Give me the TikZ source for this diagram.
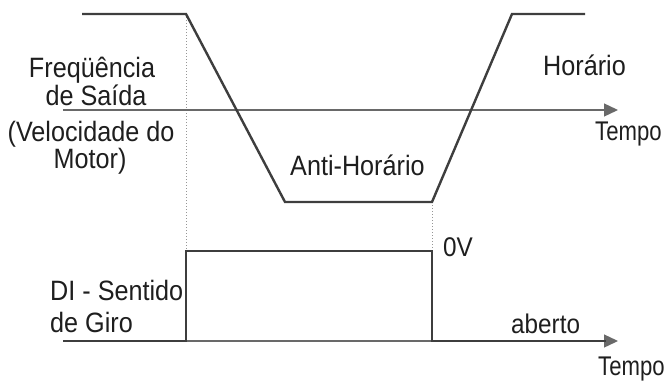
\documentclass[tikz,border=0pt]{standalone}
\usepackage{fontspec}
\setmainfont{Liberation Sans}[FakeStretch=0.9]
\newfontfamily\narrowsans{Liberation Sans}[FakeStretch=0.82]
\usepackage{xcolor}
\usepackage{tikz}
\usetikzlibrary{positioning,arrows.meta}
\definecolor{sigdark}{RGB}{62,62,62}
\definecolor{axisgray}{RGB}{105,105,105}
\definecolor{dotgray}{RGB}{150,150,150}
\definecolor{txtdark}{RGB}{30,30,30}

\begin{document}
\begin{tikzpicture}[x=1pt, y=-1pt,
    signal/.style={draw=sigdark, line width=2.4pt, line join=miter},
    axisline/.style={draw=axisgray, line width=1.3pt, -{Triangle[length=14pt,width=13pt]}},
    guide/.style={draw=dotgray, line width=1pt, dash pattern=on 1pt off 2pt},
    lbl/.style={inner sep=0pt, anchor=base, text=txtdark, font=\fontsize{28}{31}\selectfont},
    lblw/.style={lbl, anchor=base west},
    smalllbl/.style={lblw, font=\fontsize{27}{30}\selectfont},
    timelbl/.style={lblw, font=\narrowsans\fontsize{27}{30}\selectfont}]
  \useasboundingbox (0,0) rectangle (671,383);

  % frequency curve
  \coordinate (f1) at (82,14);
  \coordinate (f2) at (186,14);
  \coordinate (f3) at (285,202);
  \coordinate (f4) at (432,202);
  \coordinate (f5) at (512,14);
  \coordinate (f6) at (585,14);
  % digital input pulse
  \coordinate (p1) at (63,341);
  \coordinate (p2) at (186,341);
  \coordinate (p3) at (186,251);
  \coordinate (p4) at (432,251);
  \coordinate (p5) at (432,341);
  \coordinate (p6) at (606,341);
  % axes
  \coordinate (ax1s) at (63,110);
  \coordinate (ax1e) at (618,110);
  \coordinate (ax2s) at (63,341);
  \coordinate (ax2e) at (618,341);

  \draw[guide] (f2) -- (p3);
  \draw[guide] (f4) -- (p4);
  \draw[axisline] (ax1s) -- (ax1e);
  \draw[axisline] (ax2s) -- (ax2e);
  \draw[signal] (f1) -- (f2) -- (f3) -- (f4) -- (f5) -- (f6);
  \draw[signal] (p1) -- (p2) -- (p3) -- (p4) -- (p5) -- (p6);

  \node[lbl] (freq) at (92,77) {Freqüência};
  \node[lbl] (saida) at (96,105) {de Saída};
  \node[lbl] (veloc) at (91,141) {(Velocidade do};
  \node[lbl] (motor) at (90,168) {Motor)};
  \node[lblw] (anti) at (290,175) {Anti-Horário};
  \node[lblw] (hor) at (543,75) {Horário};
  \node[timelbl] (tempo1) at (595,140) {Tempo};
  \node[smalllbl] (zerov) at (443,256) {0V};
  \node[lblw] (di) at (50,300) {DI - Sentido};
  \node[lblw] (giro) at (50,332) {de Giro};
  \node[smalllbl] (aberto) at (511,333) {aberto};
  \node[timelbl] (tempo2) at (598,375) {Tempo};
\end{tikzpicture}
\end{document}
